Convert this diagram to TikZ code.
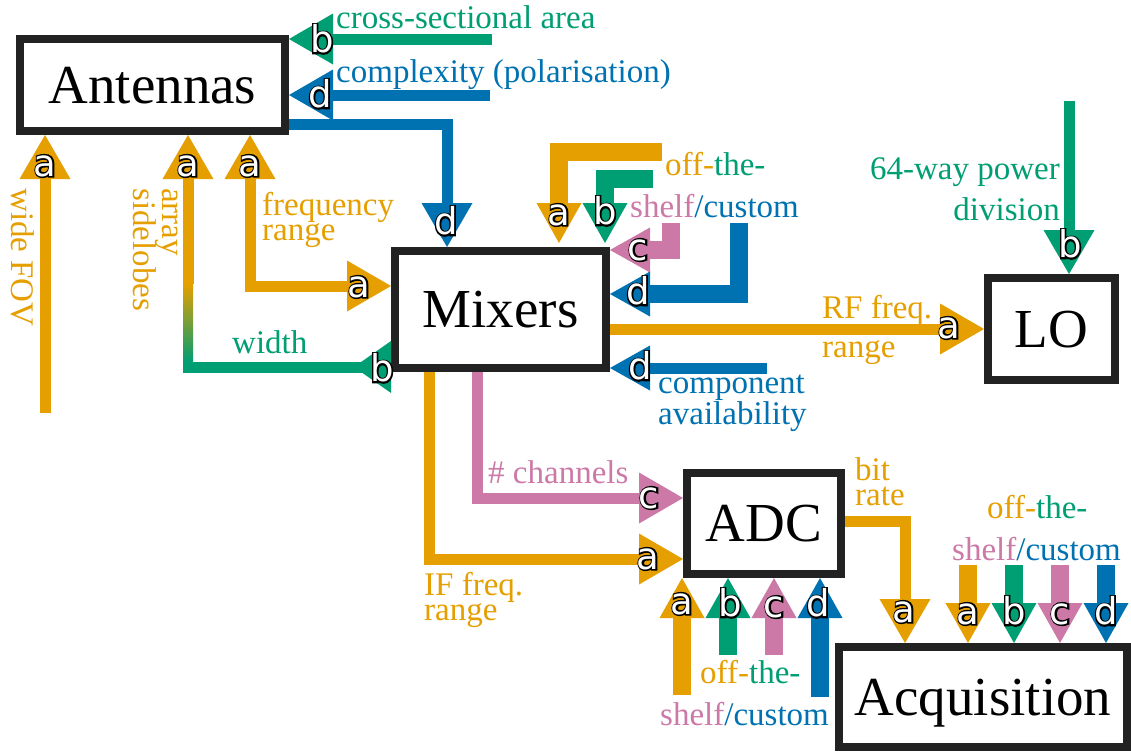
\documentclass[tikz,border=0pt]{standalone}
\usepackage{fontspec}
\setmainfont{Liberation Serif}
\newfontfamily\tagfam{DejaVu Sans}
\usetikzlibrary{arrows.meta}

\definecolor{cOr}{HTML}{E69F00}
\definecolor{cGr}{HTML}{009E73}
\definecolor{cBl}{HTML}{0072B2}
\definecolor{cPk}{HTML}{CC79A7}
\definecolor{boxline}{HTML}{222222}

% white letter with a thin black outline:
% a black copy stroked wide underneath, the white letter on top
\newcommand\tagglyph[1]{%
  \rlap{\special{pdf:literal direct q 2 Tr 3 w}\textcolor{black}{#1}\special{pdf:literal direct Q}}%
  \textcolor{white}{#1}}

\tikzset{
  box/.style={draw=boxline, line width=8pt, fill=white, inner sep=0pt,
    text depth=0pt, font=\fontsize{55}{55}\selectfont},
  lbl/.style={inner sep=0pt, anchor=base west, font=\fontsize{33}{33}\selectfont},
  tag/.style={inner sep=0pt, font=\tagfam\fontsize{37}{37}\selectfont},
  flow/.style={line width=11pt},
  wide/.style={line width=18pt},
  headn/.style={-{Triangle[width=51pt,length=44pt,line width=0pt]}},
  headw/.style={-{Triangle[width=45pt,length=40pt,line width=0pt]}},
  dbln/.style={{Triangle[width=51pt,length=44pt,line width=0pt]}-{Triangle[width=51pt,length=44pt,line width=0pt]}},
}

\begin{document}
\begin{tikzpicture}[x=1pt,y=-1pt]
\useasboundingbox (0,0) rectangle (1131,753);
\fill[white] (0,0) rectangle (1131,753);

% blocks
\node[box, minimum width=265pt, minimum height=92pt] (ant) at (152.5,85) {Antennas};
\node[box, minimum width=211pt, minimum height=117pt] (mix) at (500.5,309.5) {Mixers};
\node[box, minimum width=127pt, minimum height=102pt] (lo) at (1051.5,329) {LO};
\node[box, minimum width=154pt, minimum height=101pt] (adc) at (764,523.5) {ADC};
\node[box, minimum width=288pt, minimum height=100pt] (acq) at (983,697) {Acquisition};

% free ends and routing points
\coordinate (csa) at (492,39);
\coordinate (cpx) at (490,95);
\coordinate (antout) at (0,124.5);
\coordinate (mixd) at (447,0);
\coordinate (fov) at (45,413);
\coordinate (sideup) at (188,284);
\coordinate (widthc) at (183,367);
\coordinate (freqx) at (250,0);
\coordinate (freqy) at (0,286);
\coordinate (otsA) at (662,152); \coordinate (otsAx) at (559,0);
\coordinate (otsB) at (653,179); \coordinate (otsBx) at (605,0);
\coordinate (otsC) at (671,223); \coordinate (otsCy) at (0,250);
\coordinate (otsD) at (739,223); \coordinate (otsDy) at (0,294);
\coordinate (rfy) at (0,329);
\coordinate (comp) at (767,368);
\coordinate (pwr) at (1069,101);
\coordinate (ifx) at (429,0); \coordinate (ify) at (0,559);
\coordinate (chx) at (477,0); \coordinate (chy) at (0,498);
\coordinate (brx) at (905,0); \coordinate (bry) at (0,521);
\coordinate (adA) at (682,695); \coordinate (adB) at (728,655);
\coordinate (adC) at (774,655); \coordinate (adD) at (820,697);
\coordinate (aqA) at (968,565); \coordinate (aqB) at (1014,565);
\coordinate (aqC) at (1060,565); \coordinate (aqD) at (1106,565);

% antennas
\draw[flow,cGr,headn] (csa) -- (ant.east |- csa);
\draw[flow,cBl,headn] (cpx) -- (ant.east |- cpx);
\draw[flow,cBl,headn] (ant.east |- antout) -| (mixd |- mix.north);
\draw[flow,cOr,headn] (fov) -- (fov |- ant.south);
\draw[flow,cOr,headn] (sideup) -- (sideup |- ant.south);
\shade[top color=cOr, bottom color=cGr] (183,284) rectangle (193,362);
\draw[flow,cGr] (widthc) -- (mix.west |- widthc);
\coordinate (wtip) at (mix.west |- widthc);
\fill[cGr, shift={(wtip)}] (0,-26) -- (0,26) -- (-37,0) -- cycle;
\draw[flow,cOr,dbln] (freqx |- ant.south) |- (mix.west |- freqy);

% mixers
\draw[wide,cOr,headw,shorten >=4pt] (otsA) -| (otsAx |- mix.north);
\draw[wide,cGr,headw,shorten >=4pt] (otsB) -| (otsBx |- mix.north);
\draw[wide,cPk,headw] (otsC) |- (mix.east |- otsCy);
\draw[wide,cBl,headw] (otsD) |- (mix.east |- otsDy);
\draw[flow,cOr,headn] (mix.east |- rfy) -- (lo.west |- rfy);
\draw[flow,cBl,headw] (comp) -- (mix.east |- comp);

% LO
\draw[flow,cGr,headn] (pwr) -- (pwr |- lo.north);

% ADC
\draw[flow,cOr,headn] (ifx |- mix.south) |- (adc.west |- ify);
\draw[flow,cPk,headn] (chx |- mix.south) |- (adc.west |- chy);
\draw[wide,cOr,headw] (adA) -- (adA |- adc.south);
\draw[wide,cGr,headw] (adB) -- (adB |- adc.south);
\draw[wide,cPk,headw] (adC) -- (adC |- adc.south);
\draw[wide,cBl,headw] (adD) -- (adD |- adc.south);

% acquisition
\draw[flow,cOr,headn] (adc.east |- bry) -| (brx |- acq.north);
\draw[wide,cOr,headw] (aqA) -- (aqA |- acq.north);
\draw[wide,cGr,headw] (aqB) -- (aqB |- acq.north);
\draw[wide,cPk,headw] (aqC) -- (aqC |- acq.north);
\draw[wide,cBl,headw] (aqD) -- (aqD |- acq.north);

% category letters
\node[tag] (g1) at (322,39) {\tagglyph{b}};
\node[tag] (g2) at (320,94) {\tagglyph{d}};
\node[tag] (g3) at (446,221) {\tagglyph{d}};
\node[tag] (g4) at (45,166) {\tagglyph{a}};
\node[tag] (g5) at (188,166) {\tagglyph{a}};
\node[tag] (g6) at (382,368) {\tagglyph{b}};
\node[tag] (g7) at (250,166) {\tagglyph{a}};
\node[tag] (g8) at (359,287) {\tagglyph{a}};
\node[tag] (g9) at (559,215) {\tagglyph{a}};
\node[tag] (g10) at (605,211) {\tagglyph{b}};
\node[tag] (g11) at (638,250) {\tagglyph{c}};
\node[tag] (g12) at (638,291) {\tagglyph{d}};
\node[tag] (g13) at (949,328) {\tagglyph{a}};
\node[tag] (g14) at (640,366) {\tagglyph{d}};
\node[tag] (g15) at (1070,244) {\tagglyph{b}};
\node[tag] (g16) at (649,498) {\tagglyph{c}};
\node[tag] (g17) at (648,559) {\tagglyph{a}};
\node[tag] (g18) at (682,604) {\tagglyph{a}};
\node[tag] (g19) at (730,603) {\tagglyph{b}};
\node[tag] (g20) at (774,607) {\tagglyph{c}};
\node[tag] (g21) at (818,603) {\tagglyph{d}};
\node[tag] (g22) at (904,612) {\tagglyph{a}};
\node[tag] (g23) at (968,614) {\tagglyph{a}};
\node[tag] (g24) at (1014,611) {\tagglyph{b}};
\node[tag] (g25) at (1060,614) {\tagglyph{c}};
\node[tag] (g26) at (1106,611) {\tagglyph{d}};

% labels
\node[lbl,text=cGr] (t1) at (336,28) {cross-sectional area};
\node[lbl,text=cBl] (t2) at (336,82) {complexity (polarisation)};
\node[lbl,text=cOr] (t3) at (262,215) {frequency};
\node[lbl,text=cOr] (t4) at (262,240) {range};
\node[lbl,text=cGr] (t5) at (232,353) {width};
\node[lbl,text=cOr,rotate=-90] (t6) at (11,188) {wide FOV};
\node[lbl,text=cOr,rotate=-90] (t7) at (162,188) {array};
\node[lbl,text=cOr,rotate=-90] (t8) at (133,188) {sidelobes};
\node[lbl] (t9) at (665,175) {{\color{cOr}off-}{\color{cGr}the-}};
\node[lbl] (t10) at (630,217) {{\color{cPk}shelf}{\color{cBl}/custom}};
\node[lbl,text=cGr,anchor=base east] (t11) at (1060,179) {64-way power};
\node[lbl,text=cGr,anchor=base east] (t12) at (1060,220) {division};
\node[lbl,text=cOr] (t13) at (822,318) {RF freq.};
\node[lbl,text=cOr] (t14) at (822,357) {range};
\node[lbl,text=cBl] (t15) at (658,393) {component};
\node[lbl,text=cBl] (t16) at (658,424) {availability};
\node[lbl,text=cPk] (t17) at (488,483) {\# channels};
\node[lbl,text=cOr] (t18) at (424,595) {IF freq.};
\node[lbl,text=cOr] (t19) at (424,620) {range};
\node[lbl,text=cOr] (t20) at (855,480) {bit};
\node[lbl,text=cOr] (t21) at (855,505) {rate};
\node[lbl] (t22) at (987,518) {{\color{cOr}off-}{\color{cGr}the-}};
\node[lbl] (t23) at (952,560) {{\color{cPk}shelf}{\color{cBl}/custom}};
\node[lbl] (t24) at (700,683) {{\color{cOr}off-}{\color{cGr}the-}};
\node[lbl] (t25) at (660,725) {{\color{cPk}shelf}{\color{cBl}/custom}};
\end{tikzpicture}
\end{document}
